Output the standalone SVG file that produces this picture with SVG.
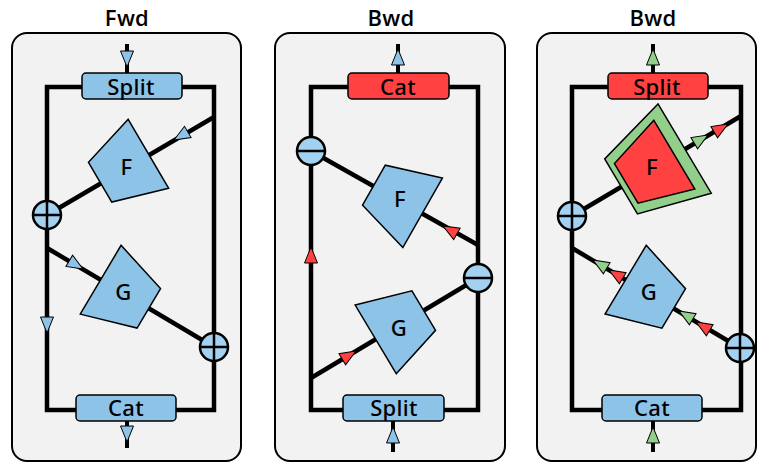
<svg xmlns="http://www.w3.org/2000/svg" width="758" height="465" viewBox="0 0 758 465">
  <style>
    .panel{fill:#f2f2f2;stroke:#000;stroke-width:2}
    .wire{fill:none;stroke:#000;stroke-width:4.5}
    .stub{fill:none;stroke:#000;stroke-width:4}
    .box{stroke:#000;stroke-width:1.5}
    .blue{fill:#8dc3e7}
    .red{fill:#ff4141}
    .green{fill:#91cf8a}
    .shape{stroke:#000;stroke-width:1.5}
    .op{fill:#a3d1f1;stroke:#000;stroke-width:2.5}
    .opline{fill:none;stroke:#000;stroke-width:2.5}
    .head{stroke:#000;stroke-width:1}
    text{font-family:"Noto Sans","Liberation Sans",sans-serif;font-size:22px;font-weight:500;letter-spacing:0.3px;text-anchor:middle;fill:#000}
    .title{font-family:"Open Sans","Noto Sans",sans-serif;font-size:22px;font-weight:600}
  </style>
  <defs>
    <!-- arrowhead, tip at origin, pointing along +x -->
    <path id="head" d="M0,0 L-16,-6.5 L-16,6.5 Z"/>
    <!-- function block: wide side at +x -->
    <path id="trap" d="M26,-40 L26,40 L-30,23 L-30,-23 Z"/>
    <path id="trapOuter" d="M38,-52 L38,52 L-36,32 L-36,-32 Z"/>
    <g id="plusOp">
      <circle r="14" class="op"/>
      <path d="M-14,0H14M0,-14V14" class="opline"/>
    </g>
    <g id="minusOp">
      <circle r="14" class="op"/>
      <path d="M-14,0H14" class="opline"/>
    </g>
  </defs>

  <!-- panel frames and titles -->
  <g id="panel-fwd">
    <rect class="panel" x="12" y="33" width="229" height="428" rx="15"/>
    <text class="title" x="127" y="26">Fwd</text>
  </g>
  <g id="panel-bwd">
    <rect class="panel" x="275" y="33" width="230" height="428" rx="15"/>
    <text class="title" x="391" y="26">Bwd</text>
  </g>
  <g id="panel-bwd2">
    <rect class="panel" x="537" y="33" width="219" height="428" rx="15"/>
    <text class="title" x="653" y="26">Bwd</text>
  </g>

  <!-- connectors -->
  <g id="connectors">
    <!-- forward pass -->
    <rect class="wire" x="47" y="87" width="167" height="323"/>
    <path class="wire" d="M214,117 L47,215 M47,248 L214,347"/>
    <path class="stub" d="M127,44V73 M127,421V448"/>
    <use href="#head" class="blue head" transform="translate(127,67) rotate(90)"/>
    <use href="#head" class="blue head" transform="translate(127,442) rotate(90)"/>
    <use href="#head" class="blue head" transform="translate(174,140) rotate(149.6)"/>
    <use href="#head" class="blue head" transform="translate(83,269) rotate(30.7)"/>
    <use href="#head" class="blue head" transform="translate(47,333) rotate(90)"/>

    <!-- backward pass -->
    <rect class="wire" x="311" y="87" width="167" height="323"/>
    <path class="wire" d="M311,151 L478,245 M311,378 L478,278"/>
    <path class="stub" d="M398,44V73 M393,421V452"/>
    <use href="#head" class="blue head" transform="translate(398,49) rotate(-90)"/>
    <use href="#head" class="blue head" transform="translate(393,427) rotate(-90)"/>
    <use href="#head" class="red head" transform="translate(443,226) rotate(209.6)"/>
    <use href="#head" class="red head" transform="translate(356,351) rotate(-30.9)"/>
    <use href="#head" class="red head" transform="translate(311,247) rotate(-90)"/>

    <!-- backward pass, reconstruction -->
    <rect class="wire" x="572" y="87" width="169" height="323"/>
    <path class="wire" d="M572,216 L741,116 M572,248 L740,348"/>
    <path class="stub" d="M653,44V73 M653,421V452"/>
    <use href="#head" class="green head" transform="translate(653,49) rotate(-90)"/>
    <use href="#head" class="green head" transform="translate(653,427) rotate(-90)"/>
    <use href="#head" class="red head" transform="translate(728,124) rotate(-30.8)"/>
    <use href="#head" class="green head" transform="translate(708,135) rotate(-30.8)"/>
    <use href="#head" class="red head" transform="translate(609,270) rotate(210.9)"/>
    <use href="#head" class="green head" transform="translate(593,260) rotate(210.9)"/>
    <use href="#head" class="red head" transform="translate(696,322) rotate(210.9)"/>
    <use href="#head" class="green head" transform="translate(679,311) rotate(210.9)"/>
  </g>

  <!-- forward pass nodes -->
  <g id="fwd-split">
    <rect class="box blue" x="82" y="73" width="100" height="26" rx="4"/>
    <text x="131" y="94.5">Split</text>
  </g>
  <g id="fwd-f">
    <use href="#trap" class="shape blue" transform="translate(126,167) rotate(-30.4)"/>
    <text x="126.5" y="175">F</text>
  </g>
  <g id="fwd-g">
    <use href="#trap" class="shape blue" transform="translate(123,293) rotate(210.7)"/>
    <text x="123.5" y="300">G</text>
  </g>
  <g id="fwd-add1"><use href="#plusOp" x="47" y="215"/></g>
  <g id="fwd-add2"><use href="#plusOp" x="214" y="347"/></g>
  <g id="fwd-cat">
    <rect class="box blue" x="76" y="395" width="100" height="26" rx="4"/>
    <text x="126" y="416">Cat</text>
  </g>

  <!-- backward pass nodes -->
  <g id="bwd-cat">
    <rect class="box red" x="348" y="73" width="101" height="26" rx="4"/>
    <text x="398" y="94.5">Cat</text>
  </g>
  <g id="bwd-sub1"><use href="#minusOp" x="311" y="151"/></g>
  <g id="bwd-f">
    <use href="#trap" class="shape blue" transform="translate(400,200) rotate(29.6)"/>
    <text x="400" y="206.5">F</text>
  </g>
  <g id="bwd-sub2"><use href="#minusOp" x="478" y="278"/></g>
  <g id="bwd-g">
    <use href="#trap" class="shape blue" transform="translate(398,326) rotate(149.1)"/>
    <text x="399" y="336">G</text>
  </g>
  <g id="bwd-split">
    <rect class="box blue" x="343" y="395" width="101" height="26" rx="4"/>
    <text x="394" y="416">Split</text>
  </g>

  <!-- backward pass with recomputation nodes -->
  <g id="bwd2-split">
    <rect class="box red" x="608" y="73" width="100" height="26" rx="4"/>
    <text x="657" y="94.5">Split</text>
  </g>
  <g id="bwd2-add1"><use href="#plusOp" x="572" y="216"/></g>
  <g id="bwd2-f">
    <use href="#trapOuter" class="shape green" transform="translate(652,168) rotate(-30.8)"/>
    <use href="#trap" class="shape red" transform="translate(652,168) rotate(-30.8)"/>
    <text x="652" y="175">F</text>
  </g>
  <g id="bwd2-g">
    <use href="#trap" class="shape blue" transform="translate(648,293) rotate(210.9)"/>
    <text x="649" y="300">G</text>
  </g>
  <g id="bwd2-add2"><use href="#plusOp" x="740" y="348"/></g>
  <g id="bwd2-cat">
    <rect class="box blue" x="602" y="395" width="100" height="26" rx="4"/>
    <text x="652" y="416">Cat</text>
  </g>
</svg>
